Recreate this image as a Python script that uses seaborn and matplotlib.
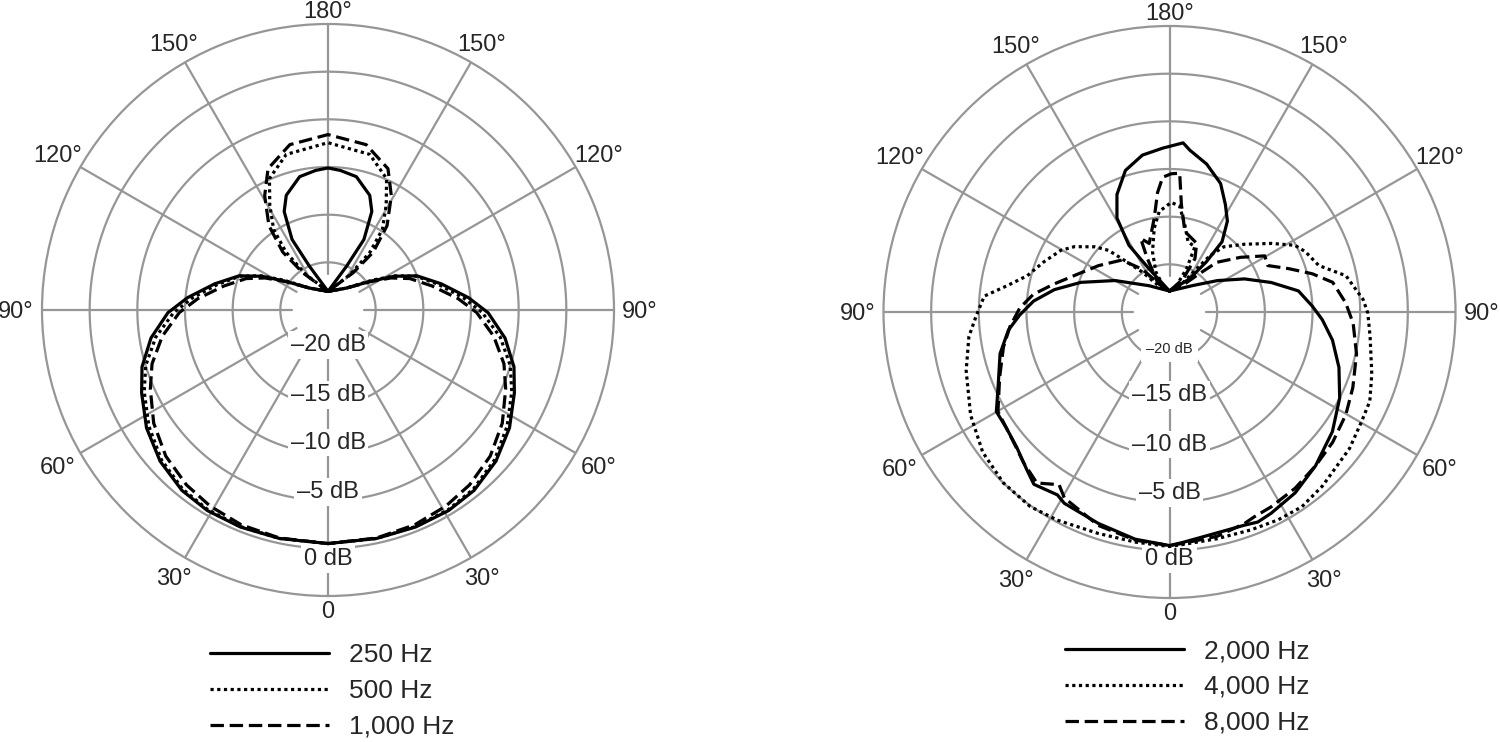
import matplotlib
matplotlib.use("Agg")
import matplotlib.pyplot as plt
from matplotlib import transforms
import numpy as np
import seaborn as sns

# %% DATA
# Angles in degrees, 0 = front (bottom), positive = right-hand side of the plot.
# Levels in dB, the centre of each plot is -25 dB and the outer circle +5 dB.

low_front_angles = [0, 12, 22, 31, 39, 48, 57, 66, 73, 81, 89, 95, 103, 111, 117, 124, 140]
hz250_front = [-0.5, -0.5, -0.45, -0.45, -0.65, -1.3, -2.3, -3.6, -4.6, -6.2, -8.2,
               -10.2, -12.8, -15.0, -17.2, -19.6, -22.0]
hz500_front = [-0.5, -0.5, -0.5, -0.55, -0.8, -1.5, -2.6, -3.9, -5.0, -6.7, -8.8,
               -10.7, -13.1, -15.1, -17.1, -19.4, -22.0]
hz1000_front = [-0.5, -0.55, -0.7, -1.0, -1.4, -2.1, -3.2, -4.6, -5.7, -7.4, -9.4,
                -11.3, -13.8, -15.8, -17.6, -19.7, -22.0]

hz250_rear_angles = [157, 153, 156, 160, 168, 175, 180]
hz250_rear = [-20.0, -16.7, -13.7, -12.2, -10.7, -10.3, -10.1]
hz500_rear_angles = [148, 144, 146, 151, 156, 165, 180]
hz500_rear = [-20.6, -17.5, -14.8, -12.4, -9.9, -8.1, -7.45]
hz1000_rear_angles = [146, 142, 145, 151, 157, 167, 180]
hz1000_rear = [-20.3, -17.3, -14.2, -11.3, -8.9, -7.2, -6.6]
low_null = -23.05

# Right plot: asymmetric, full traces
hz2000_front_angles = [-142, -120, -108.5, -101, -94.6, -88.9, -83.6, -76.2, -67.1, -60.1,
                       -54.5, -48.5, -42.2, -38.2, -31.5, -28.8, -18.6, -8.6, 0,
                       3.4, 12.1, 19.3, 22.8, 26.8, 34.8, 43.5, 53.7, 63.2, 71.9, 80.2,
                       87.1, 92.3, 99.3, 106.2, 113.8, 123.3, 138.6]
hz2000_front = [-21.5, -18.4, -15.2, -12.7, -10.7, -9.3, -8.0, -6.7, -5.5, -4.05,
                -4.0, -3.6, -2.7, -2.0, -2.5, -2.1, -1.6, -0.9, -0.5,
                -0.8, -1.3, -1.3, -1.1, -1.35, -1.9, -2.75, -3.8, -5.0, -6.3, -7.65,
                -8.95, -10.0, -11.3, -13.9, -16.4, -19.0, -21.3]
hz2000_rear_angles = [-154.7, -148.7, -150.8, -155.9, -162.7, -170.2, -177.6, 175.4, 172.8,
                      165.9, 158.3, 152.5, 147.5, 143.2, 143.7, 149.2]
hz2000_rear = [-20.0, -16.8, -13.7, -11.5, -9.45, -8.3, -7.8, -7.2, -7.9,
               -9.0, -10.5, -12.3, -13.7, -15.8, -18.5, -21.0]

hz4000_front_angles = [-158.7, -145.6, -138.2, -135.3, -131.1, -124.5, -119.6, -111.7, -104.3,
                       -99.1, -94.9, -88.7, -83, -73.9, -62.6, -53.1, -44.2, -35.6, -28.3,
                       -17.8, -8.4, 0, 3.3, 11.8, 20.5, 27.6, 34.2, 41.3, 52.8, 60.2, 66,
                       72.9, 83, 89.7, 93.7, 101.6, 107.3, 113.9, 118, 123.9, 132.1, 140.2,
                       144.3, 149.1, 158.7]
hz4000_front = [-22.1, -19.9, -17.5, -15.9, -14.6, -12.9, -11.9, -10.8, -9.6,
                -7.7, -5.5, -4.7, -3.8, -2.8, -1.5, -0.5, 0.0, 0.1, -0.2,
                -0.6, -0.6, -0.4, -0.57, -0.7, -0.6, -0.4, -0.3, -0.7, -1.3, -1.8, -2.0,
                -2.8, -3.8, -4.2, -4.65, -6.1, -8.6, -9.4, -10.1, -12.1, -14.4, -16.1,
                -17.7, -20.1, -22.1]
hz4000_rear_angles = [-168, -161.2, -164.2, -169.7, -174.2, 179.1, 174.5, 170.1, 165.1,
                      158.7, 158.5, 165.4]
hz4000_rear = [-22.4, -20.6, -18.45, -16.05, -14.4, -13.5, -13.85, -15.7, -17.4,
               -17.65, -20.1, -22.2]

hz8000_front_angles = [-159.9, -147.7, -137.4, -123.1, -112.5, -103.5, -97.4, -91.6, -84.8,
                       -78.1, -68.9, -59.9, -50.2, -44.1, -37.8, -32.6, -29.5, -18.5, -8.5,
                       0, 3.4, 12, 19.4, 22.5, 27.6, 35.5, 43.5, 51.4, 59.8, 67.6, 77.4,
                       86.5, 93, 100.3, 105, 110, 115.3, 120.5, 127.6, 136.4, 143.2, 157.4]
hz8000_front = [-21.9, -19.7, -17.6, -16.1, -14.6, -12.5, -10.6, -9.3, -8.2,
                -7.2, -5.9, -4.2, -3.7, -3.0, -2.3, -3.5, -2.6, -1.4, -0.8,
                -0.5, -0.7, -0.95, -1.45, -1.75, -1.95, -2.3, -2.75, -3.1, -3.6, -4.2, -4.9,
                -5.7, -6.5, -7.6, -9.5, -11.7, -13.6, -13.4, -15.6, -17.8, -20.2, -22.2]
hz8000_rear_angles = [-158, -157.5, -158.6, -163.5, -170.8, -174.3, -177.1, 179.3, 175.8,
                      173.7, 169.2, 158.4, 154.5, 157.6]
hz8000_rear = [-21.65, -18.9, -16.7, -17.5, -15.0, -12.4, -10.85, -10.5, -10.4,
               -13.65, -16.4, -17.25, -18.8, -21.25]
high_null = -22.8

ring_levels = [-20, -15, -10, -5, 0]
ring_labels = ["\u201320 dB", "\u201315 dB", "\u201310 dB", "\u20135 dB", "0 dB"]
angle_ticks = list(range(0, 360, 30))
angle_labels = ["0", "30°", "60°", "90°", "120°", "150°", "180°",
                "150°", "120°", "90°", "60°", "30°"]


# %% HELPERS
def mirror_trace(front_a, front_d, rear_a, rear_d, null):
    ang = [180] + [-a for a in front_a[::-1]] + front_a[1:] + [180] \
        + rear_a + [-a for a in rear_a[::-1][1:]] + [180]
    db = [null] + front_d[::-1] + front_d[1:] + [null] + rear_d + rear_d[::-1][1:] + [null]
    return np.deg2rad(ang), np.array(db)


def full_trace(front_a, front_d, rear_a, rear_d, null):
    ang = [180] + front_a + [180] + rear_a + [180]
    db = [null] + front_d + [null] + rear_d + [null]
    return np.deg2rad(ang), np.array(db)


GRAY = "#969696"
DOTTED = (0, (1.0, 1.1))
DASHED = (0, (4.2, 1.8))
R = 286            # outer circle radius in pixels
PX_PER_DB = R / 30.0


def setup_polar(ax, label_r, small_first=False):
    ax.set_theta_zero_location("S")
    ax.set_theta_direction(1)
    ax.set_ylim(-25, 5)
    ax.grid(False)
    ax.set_yticks([])
    ax.set_xticks([])
    ax.spines["polar"].set_color(GRAY)
    ax.spines["polar"].set_linewidth(1.6)
    full = np.linspace(0, 2 * np.pi, 361)
    for lev in ring_levels:
        ax.plot(full, np.full_like(full, lev), color=GRAY, lw=1.6, zorder=1)
    for t in angle_ticks:
        ax.plot([np.deg2rad(t)] * 2, [-21.2, 5], color=GRAY, lw=1.6, zorder=1)
    # angle labels just outside the circle, nudged down a little
    shifted = transforms.offset_copy(ax.transData, fig=ax.figure, y=-2, units="dots")
    for t, txt in zip(angle_ticks, angle_labels):
        c = abs(np.cos(np.deg2rad(t)))
        r_px = 312 - 12 * c ** 8
        ax.text(np.deg2rad(t), -25 + r_px / PX_PER_DB, txt, ha="center", va="center",
                fontsize=17, clip_on=False, transform=shifted)
    for i, (r, txt) in enumerate(zip(label_r, ring_labels)):
        small = small_first and i == 0
        ax.text(0, r, txt, ha="center", va="center",
                fontsize=10.5 if small else 17, zorder=3,
                bbox=dict(fc="white", ec="none", pad=4 if small else 2))


# %% PLOT
sns.set_theme(style="white")
plt.rcParams["font.family"] = ["Liberation Sans", "DejaVu Sans"]

fig = plt.figure(figsize=(15, 7.42), dpi=100)
W, H = 1500, 742
axl = fig.add_axes([(328 - R) / W, (H - 310 - R) / H, 2 * R / W, 2 * R / H], projection="polar")
axr = fig.add_axes([(1169.5 - R) / W, (H - 312 - R) / H, 2 * R / W, 2 * R / H], projection="polar")

setup_polar(axl, [-21.3, -16.1, -11.1, -5.9, 1.1])
setup_polar(axr, [-21.1, -16.3, -11.1, -6.0, 0.9], small_first=True)

low_series = [
    ("250 Hz", "-", mirror_trace(low_front_angles, hz250_front, hz250_rear_angles, hz250_rear, low_null)),
    ("500 Hz", DOTTED, mirror_trace(low_front_angles, hz500_front, hz500_rear_angles, hz500_rear, low_null)),
    ("1,000 Hz", DASHED, mirror_trace(low_front_angles, hz1000_front, hz1000_rear_angles, hz1000_rear, low_null)),
]
high_series = [
    ("2,000 Hz", "-", full_trace(hz2000_front_angles, hz2000_front, hz2000_rear_angles, hz2000_rear, high_null)),
    ("4,000 Hz", DOTTED, full_trace(hz4000_front_angles, hz4000_front, hz4000_rear_angles, hz4000_rear, high_null)),
    ("8,000 Hz", DASHED, full_trace(hz8000_front_angles, hz8000_front, hz8000_rear_angles, hz8000_rear, high_null)),
]

for ax, series, anchor in [(axl, low_series, (210 / W, 1 - 643 / H)),
                           (axr, high_series, (1065 / W, 1 - 639 / H))]:
    handles = []
    for name, ls, (theta, db) in series:
        sns.lineplot(x=theta, y=db, ax=ax, color="black", linewidth=2.3, linestyle=ls,
                     estimator=None, sort=False, legend=False, zorder=4)
        line = ax.lines[-1]
        line.set_label(name)
        handles.append(line)
    ax.set_xlabel("")
    ax.set_ylabel("")
    ax.set_xticks([])
    ax.set_ylim(-25, 5)
    fig.legend(handles=handles, loc="upper left", bbox_to_anchor=anchor, frameon=False,
               fontsize=19, handlelength=4.5, handletextpad=0.75, labelspacing=0.45,
               borderpad=0, borderaxespad=0)

fig.savefig("out.png", dpi=100)
